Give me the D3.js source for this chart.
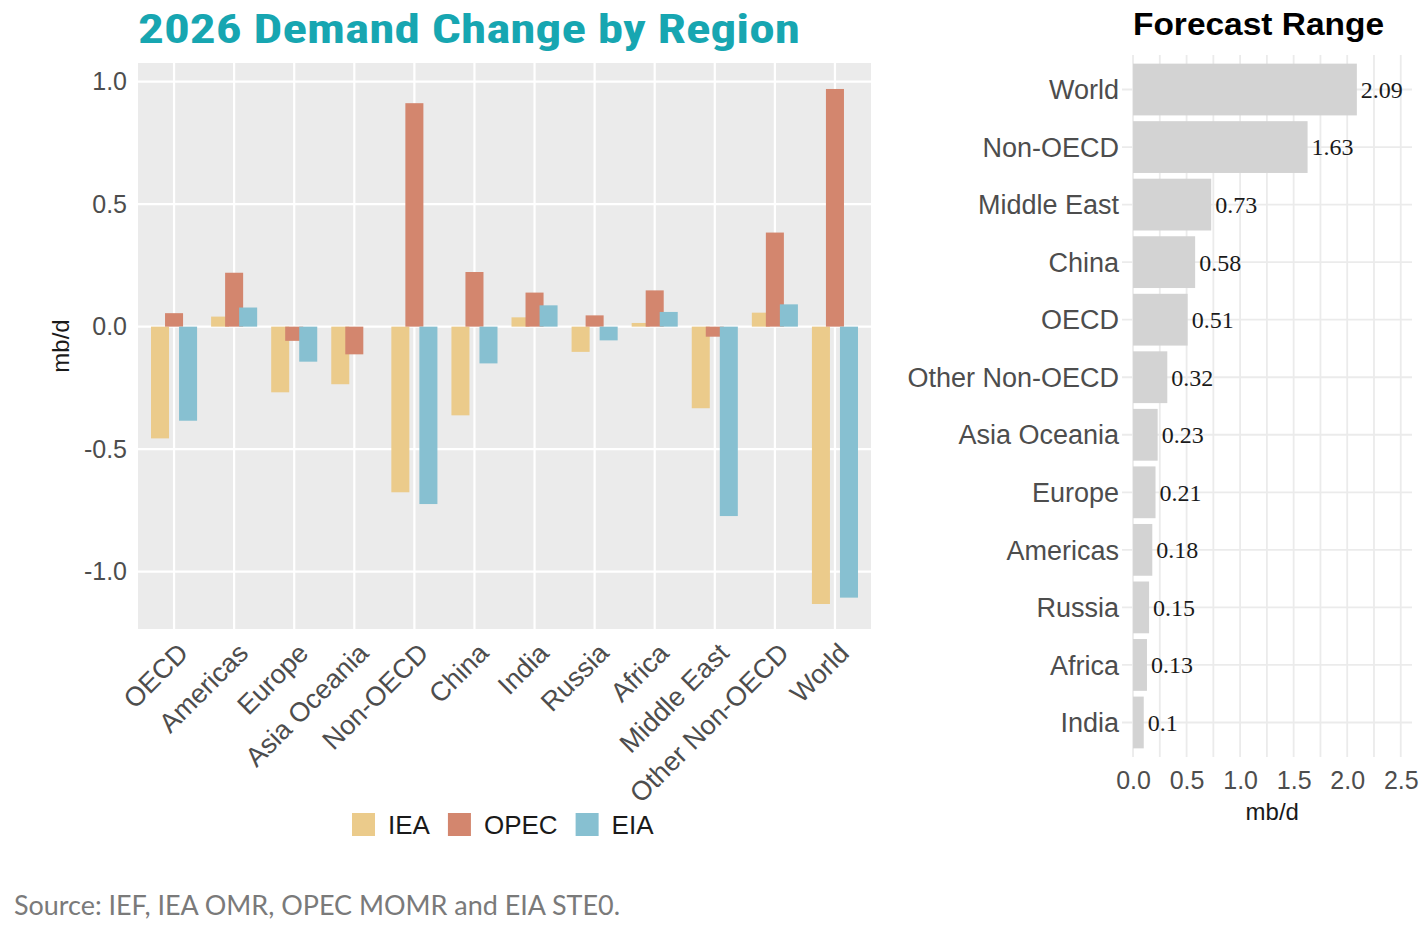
<!DOCTYPE html>
<html>
<head>
<meta charset="utf-8">
<script src="https://cdn.jsdelivr.net/npm/d3@7"></script>
<style>
  body { margin: 0; background: #fff; }
  svg { display: block; font-family: "Liberation Sans", Arial, sans-serif; }
</style>
</head>
<body>
<svg id="chart" width="1428" height="926"></svg>
<script>
// data
var regions = ["OECD", "Americas", "Europe", "Asia Oceania", "Non-OECD", "China",
               "India", "Russia", "Africa", "Middle East", "Other Non-OECD", "World"];
var series = ["IEA", "OPEC", "EIA"];
var ieaValues  = [-0.456, 0.041, -0.268, -0.235, -0.676, -0.362, 0.038, -0.103, 0.015, -0.333, 0.057, -1.132];
var opecValues = [0.055, 0.220, -0.058, -0.113, 0.912, 0.223, 0.139, 0.046, 0.148, -0.041, 0.384, 0.970];
var eiaValues  = [-0.384, 0.078, -0.143, 0.0, -0.724, -0.150, 0.087, -0.056, 0.060, -0.773, 0.091, -1.106];
var yTicks = [-1.0, -0.5, 0.0, 0.5, 1.0];

var rangeRegions = ["World", "Non-OECD", "Middle East", "China", "OECD", "Other Non-OECD",
                    "Asia Oceania", "Europe", "Americas", "Russia", "Africa", "India"];
var rangeValues = [2.09, 1.63, 0.73, 0.58, 0.51, 0.32, 0.23, 0.21, 0.18, 0.15, 0.13, 0.1];
var rangeTicks = [0.0, 0.5, 1.0, 1.5, 2.0, 2.5];

var colors = { IEA: "#EBCB8B", OPEC: "#D3866E", EIA: "#87C0D1" };

// plain hyphen for negatives, like the original
var fmt1 = function (d) { return d.toFixed(1); };

var svg = d3.select("#chart");

// ---------- left chart: demand change by region ----------
var L = { left: 138, right: 871, top: 63, bottom: 629 };

var x = d3.scalePoint().domain(regions).range([L.left, L.right]).padding(0.6);
var step = x.step();
var xs = d3.scalePoint().domain(series).range([-0.35 * step, 0.35 * step]).padding(0.5);
var barW = 0.3 * step;
var y = d3.scaleLinear().domain([-1.234, 1.076]).range([L.bottom, L.top]);

svg.append("rect")
  .attr("x", L.left).attr("y", L.top)
  .attr("width", L.right - L.left).attr("height", L.bottom - L.top)
  .attr("fill", "#EBEBEB");

svg.append("g").selectAll("line").data(yTicks).enter().append("line")
  .attr("x1", L.left).attr("x2", L.right)
  .attr("y1", function (d) { return y(d); }).attr("y2", function (d) { return y(d); })
  .attr("stroke", "#fff").attr("stroke-width", 2.2);

svg.append("g").selectAll("line").data(regions).enter().append("line")
  .attr("x1", function (d) { return x(d); }).attr("x2", function (d) { return x(d); })
  .attr("y1", L.top).attr("y2", L.bottom)
  .attr("stroke", "#fff").attr("stroke-width", 2.2);

var rows = [];
regions.forEach(function (r, i) {
  rows.push({ region: r, series: "IEA", value: ieaValues[i] });
  rows.push({ region: r, series: "OPEC", value: opecValues[i] });
  rows.push({ region: r, series: "EIA", value: eiaValues[i] });
});
// draw IEA first, then OPEC, then EIA so overlaps stack like the original
rows.sort(function (a, b) { return series.indexOf(a.series) - series.indexOf(b.series); });

svg.append("g").selectAll("rect").data(rows).enter().append("rect")
  .attr("x", function (d) { return x(d.region) + xs(d.series) - barW / 2; })
  .attr("width", barW)
  .attr("y", function (d) { return y(Math.max(0, d.value)); })
  .attr("height", function (d) { return Math.abs(y(d.value) - y(0)); })
  .attr("fill", function (d) { return colors[d.series]; });

var yAxis = svg.append("g")
  .attr("transform", "translate(" + L.left + ",0)")
  .call(d3.axisLeft(y).tickValues(yTicks).tickFormat(fmt1).tickSize(0).tickPadding(11));
yAxis.select(".domain").remove();
yAxis.selectAll("text").attr("font-size", 25).attr("fill", "#4D4D4D")
  .attr("font-family", "Liberation Sans, Arial, sans-serif");

svg.append("text")
  .attr("transform", "translate(69," + ((L.top + L.bottom) / 2) + ") rotate(-90)")
  .attr("text-anchor", "middle")
  .attr("font-size", 24).attr("fill", "#1a1a1a")
  .text("mb/d");

svg.append("g").selectAll("text").data(regions).enter().append("text")
  .attr("transform", function (d) { return "translate(" + (x(d) + 2) + "," + (L.bottom + 12) + ") rotate(-45)"; })
  .attr("text-anchor", "end")
  .attr("dy", "0.72em")
  .attr("font-size", 27).attr("fill", "#4D4D4D")
  .text(function (d) { return d; });

svg.append("text")
  .attr("x", L.left).attr("y", 43)
  .attr("font-family", "Liberation Sans Narrow, Roboto Condensed, Liberation Sans, sans-serif")
  .attr("font-weight", "bold").attr("font-size", 40)
  .attr("fill", "#17A6B1")
  .attr("textLength", 662).attr("lengthAdjust", "spacingAndGlyphs")
  .text("2026 Demand Change by Region");

// legend
var legend = svg.append("g").attr("transform", "translate(352,813)");
var lx = 0;
series.forEach(function (s) {
  legend.append("rect").attr("x", lx).attr("y", 0).attr("width", 23).attr("height", 23)
    .attr("fill", colors[s]);
  var t = legend.append("text").attr("x", lx + 36).attr("y", 21)
    .attr("font-size", 26).attr("fill", "#1a1a1a").text(s);
  lx += 36 + t.node().getComputedTextLength() + 18;
});

// ---------- right chart: forecast range ----------
var R = { left: 1122, right: 1412, top: 55, bottom: 757 };

var xr = d3.scaleLinear().domain([-0.103, 2.605]).range([R.left, R.right]);
var yr = d3.scalePoint().domain(rangeRegions).range([R.top, R.bottom]).padding(0.6);
var barH = 0.9 * yr.step();

var minorTicks = d3.range(0, 2.51, 0.25);
svg.append("g").selectAll("line").data(minorTicks).enter().append("line")
  .attr("x1", function (d) { return xr(d); }).attr("x2", function (d) { return xr(d); })
  .attr("y1", R.top).attr("y2", R.bottom)
  .attr("stroke", "#EBEBEB").attr("stroke-width", 1.8);

svg.append("g").selectAll("line").data(rangeRegions).enter().append("line")
  .attr("x1", R.left).attr("x2", R.right)
  .attr("y1", function (d) { return yr(d); }).attr("y2", function (d) { return yr(d); })
  .attr("stroke", "#EBEBEB").attr("stroke-width", 1.8);

svg.append("g").selectAll("rect").data(rangeValues).enter().append("rect")
  .attr("x", xr(0))
  .attr("y", function (d, i) { return yr(rangeRegions[i]) - barH / 2; })
  .attr("width", function (d) { return xr(d) - xr(0); })
  .attr("height", barH)
  .attr("fill", "#D3D3D3");

svg.append("g").selectAll("text").data(rangeValues).enter().append("text")
  .attr("x", function (d) { return xr(d) + 4; })
  .attr("y", function (d, i) { return yr(rangeRegions[i]); })
  .attr("dy", "0.35em")
  .attr("font-family", "Liberation Serif, Times New Roman, serif")
  .attr("font-size", 24).attr("fill", "#1a1a1a")
  .text(function (d) { return d; });

svg.append("g").selectAll("text").data(rangeRegions).enter().append("text")
  .attr("x", R.left - 3)
  .attr("y", function (d) { return yr(d); })
  .attr("dy", "0.36em")
  .attr("text-anchor", "end")
  .attr("font-size", 27).attr("fill", "#4D4D4D")
  .text(function (d) { return d; });

var xrAxis = svg.append("g")
  .attr("transform", "translate(0," + (R.bottom + 8) + ")")
  .call(d3.axisBottom(xr).tickValues(rangeTicks).tickFormat(fmt1).tickSize(0).tickPadding(6));
xrAxis.select(".domain").remove();
xrAxis.selectAll("text").attr("font-size", 25).attr("fill", "#4D4D4D")
  .attr("font-family", "Liberation Sans, Arial, sans-serif");

svg.append("text")
  .attr("x", xr(1.3)).attr("y", 820)
  .attr("text-anchor", "middle")
  .attr("font-size", 24).attr("fill", "#1a1a1a")
  .text("mb/d");

svg.append("text")
  .attr("x", 1133).attr("y", 35)
  .attr("font-weight", "bold").attr("font-size", 31).attr("fill", "#000")
  .attr("textLength", 251).attr("lengthAdjust", "spacingAndGlyphs")
  .text("Forecast Range");

// source note
svg.append("text")
  .attr("x", 14).attr("y", 915)
  .attr("font-family", "Lato, Open Sans, sans-serif")
  .attr("font-size", 26).attr("fill", "#7A7A7A")
  .attr("textLength", 606).attr("lengthAdjust", "spacingAndGlyphs")
  .text("Source: IEF, IEA OMR, OPEC MOMR and EIA STE0.");
</script>
</body>
</html>
